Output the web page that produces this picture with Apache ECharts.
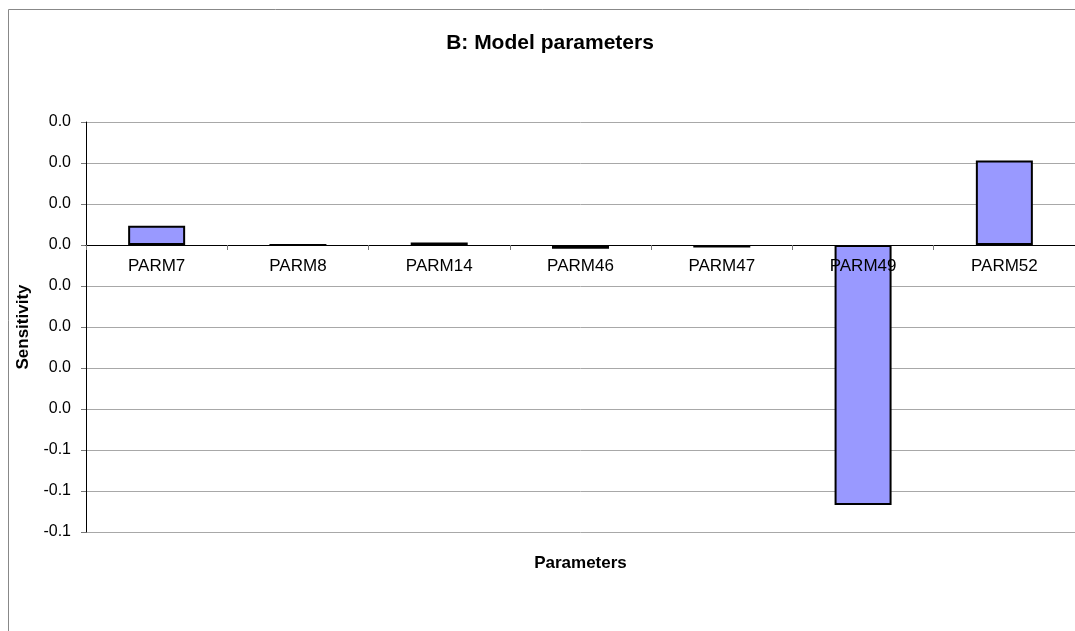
<!DOCTYPE html>
<html>
<head>
<meta charset="utf-8">
<script src="https://cdn.jsdelivr.net/npm/echarts@6/dist/echarts.min.js"></script>
<style>
  html, body { margin: 0; padding: 0; background: #fff; }
  #main { width: 1075px; height: 631px; }
</style>
</head>
<body>
<div id="main"></div>
<script>
// parameters on the x axis
var categories = ['PARM7', 'PARM8', 'PARM14', 'PARM46', 'PARM47', 'PARM49', 'PARM52'];
// sensitivity per parameter
var sensitivity = [0.0047, 0, 0.0006, -0.0009, -0.0006, -0.0634, 0.0206];
// y ticks and the labels the original shows for them (1 decimal)
var yTickValues = [0.03, 0.02, 0.01, 0, -0.01, -0.02, -0.03, -0.04, -0.05, -0.06, -0.07];
var yTickLabels = ['0.0', '0.0', '0.0', '0.0', '0.0', '0.0', '0.0', '0.0', '-0.1', '-0.1', '-0.1'];

var FONT = '"Liberation Sans", Arial, sans-serif';

var GRID_TOP = 122, GRID_BOTTOM = 99, CHART_H = 631;
var Y_MIN = -0.07, Y_MAX = 0.03;
// lift the category axis up to the zero line (labels follow it, as in the original)
var plotH = CHART_H - GRID_TOP - GRID_BOTTOM;
var zeroOffset = -plotH * (0 - Y_MIN) / (Y_MAX - Y_MIN);

var myChart = echarts.init(document.getElementById('main'));

var option = {
    animation: false,
    backgroundColor: '#fff',
    title: {
        text: 'B: Model parameters',
        left: 545,
        top: 28,
        textAlign: 'center',
        textStyle: { fontFamily: FONT, fontSize: 21, fontWeight: 'bold', color: '#000' }
    },
    graphic: [
        {
            type: 'rect',
            shape: { x: 8.5, y: 9.5, width: 1200, height: 800 },
            style: { fill: 'none', stroke: '#888', lineWidth: 1 },
            silent: true,
            z: -10
        }
    ],
    grid: {
        left: 86,
        right: -12,
        top: GRID_TOP,
        bottom: GRID_BOTTOM,
        containLabel: false
    },
    xAxis: [
        {
            type: 'category',
            data: categories,
            boundaryGap: true,
            position: 'bottom',
            offset: zeroOffset,
            z: 5,
            axisLine: { onZero: false, lineStyle: { color: '#000', width: 1 } },
            axisTick: { show: true, alignWithLabel: false, length: 5, lineStyle: { color: '#777' } },
            axisLabel: { fontFamily: FONT, fontSize: 17, color: '#000', margin: 13, interval: 0 },
            splitLine: { show: false }
        },
        {
            type: 'category',
            data: categories,
            position: 'bottom',
            axisLine: { show: false, onZero: false },
            axisTick: { show: false },
            axisLabel: { show: false },
            splitLine: { show: false },
            name: 'Parameters',
            nameLocation: 'middle',
            nameGap: 23,
            nameTextStyle: { fontFamily: FONT, fontSize: 17, fontWeight: 'bold', color: '#000' }
        }
    ],
    yAxis: {
        type: 'value',
        min: Y_MIN,
        max: Y_MAX,
        interval: 0.01,
        name: 'Sensitivity',
        nameLocation: 'middle',
        nameRotate: 90,
        nameGap: 54,
        nameTextStyle: { fontFamily: FONT, fontSize: 17, fontWeight: 'bold', color: '#000' },
        axisLine: { show: true, onZero: false, lineStyle: { color: '#000', width: 1 } },
        axisTick: { show: true, length: 5, lineStyle: { color: '#777' } },
        axisLabel: {
            fontFamily: FONT, fontSize: 16, color: '#000', margin: 15,
            formatter: function (v) {
                for (var i = 0; i < yTickValues.length; i++) {
                    if (Math.abs(v - yTickValues[i]) < 1e-9) return yTickLabels[i];
                }
                return '';
            }
        },
        splitLine: { show: true, lineStyle: { color: '#a8a8a8', width: 1 } }
    },
    series: [
        {
            name: 'Sensitivity',
            type: 'bar',
            xAxisIndex: 0,
            data: sensitivity,
            barWidth: 57,
            itemStyle: { color: '#9999FF', borderColor: '#000', borderWidth: 2 }
        }
    ]
};

myChart.setOption(option);
</script>
</body>
</html>
